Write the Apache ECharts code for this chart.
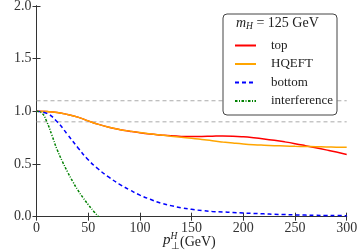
<!DOCTYPE html>
<html>
<head>
<meta charset="utf-8">
<script src="https://cdn.jsdelivr.net/npm/echarts@6/dist/echarts.min.js"></script>
<style>html,body{margin:0;padding:0;background:#fff}#c{width:357px;height:250px}</style>
</head>
<body>
<div id="c"></div>
<script>
const xGrid = [0,10,20,30,40,50,60,70,80,90,100,110,120,130,140,150,160,170,180,190,200,210,220,230,240,250,260,270,280,290,300];
const topVals = [1.0,0.997,0.988,0.97,0.945,0.909,0.876,0.849,0.828,0.811,0.796,0.784,0.775,0.767,0.762,0.76,0.761,0.764,0.766,0.764,0.758,0.749,0.738,0.725,0.71,0.693,0.674,0.654,0.634,0.613,0.59];
const hqeftVals = [1.0,0.997,0.988,0.97,0.945,0.909,0.876,0.849,0.828,0.812,0.798,0.786,0.775,0.764,0.754,0.745,0.733,0.72,0.709,0.699,0.69,0.683,0.678,0.674,0.671,0.668,0.666,0.664,0.662,0.66,0.658];
const bottomVals = [1.0,0.98,0.9,0.78,0.655,0.54,0.45,0.375,0.31,0.255,0.205,0.165,0.13,0.105,0.085,0.07,0.058,0.05,0.045,0.04,0.035,0.031,0.027,0.023,0.02,0.017,0.015,0.013,0.012,0.011,0.01];
const xInterf = [0,5,10,15,20,25,30,35,40,45,50,55,60];
const interfVals = [1.0,0.985,0.9,0.77,0.635,0.525,0.425,0.335,0.252,0.18,0.115,0.055,0.0];
const xTicks = [0,50,100,150,200,250,300];
const yTicks = [0.0,0.5,1.0,1.5,2.0];
const refUpper = 1.1, refLower = 0.9;
const legendSpanX = [180, 291]; // x-range hidden behind the opaque legend box
const seriesNames = ['top','HQEFT','bottom','interference'];

const pair = (xs, ys) => xs.map((x,i)=>[x, ys[i]]);
const FONT = 'Liberation Serif';
const AX = '#333';
const axisCommon = {
  axisLine:{show:true,lineStyle:{color:AX,width:1}},
  axisTick:{show:true,inside:true,length:4,lineStyle:{color:AX}},
  splitLine:{show:false}
};
const xMin = xGrid[0], xMax = xGrid[xGrid.length-1];
const refStyle = {color:'#aaaaaa',type:[4,3],width:1};
const chart = echarts.init(document.getElementById('c'));
chart.setOption({
  animation:false,
  grid:{left:36.5,right:10.3,top:5.9,bottom:33.3,containLabel:false,outerBoundsMode:'none'},
  xAxis:[
    Object.assign({type:'value',min:0,max:300,interval:50,
      axisLabel:{color:AX,fontFamily:FONT,fontSize:14,margin:5,formatter:v=>xTicks.includes(v)?String(v):''}},axisCommon),
    Object.assign({type:'value',position:'top',min:0,max:300,interval:50,axisLabel:{show:false}},axisCommon)
  ],
  yAxis:[
    Object.assign({type:'value',min:0,max:2,interval:0.5,
      name:'C',nameLocation:'middle',nameGap:31,nameRotate:90,
      nameTextStyle:{fontFamily:FONT,fontStyle:'italic',fontSize:15,color:AX},
      axisLabel:{color:AX,fontFamily:FONT,fontSize:14,margin:5,formatter:v=>yTicks.includes(v)?v.toFixed(1):''}},axisCommon),
    Object.assign({type:'value',position:'right',min:0,max:2,interval:0.5,axisLabel:{show:false}},axisCommon)
  ],
  legend:{
    orient:'vertical',left:229,top:34,itemWidth:21,itemHeight:14,itemGap:5.5,z:200,
    itemStyle:{opacity:0},
    textStyle:{fontFamily:FONT,fontSize:13,color:'#222',padding:[0,0,0,10]},
    data:seriesNames
  },
  graphic:{elements:[
    {type:'rect',z:100,shape:{x:223,y:14,width:114,height:101,r:4},style:{fill:'#ffffff',stroke:'#444',lineWidth:1}},
    {type:'text',z:101,left:236,top:16,style:{rich:{
        m:{fontFamily:FONT,fontStyle:'italic',fontSize:14,fill:'#222'},
        s:{fontFamily:FONT,fontStyle:'italic',fontSize:9.5,fill:'#222',padding:[7,0,0,0]},
        r:{fontFamily:FONT,fontSize:14,fill:'#222'}
      },text:'{m|m}{s|H}{r| = 125 GeV}'}},
    {type:'text',left:163,top:233,style:{text:'p',fontFamily:FONT,fontStyle:'italic',fontSize:15,fill:'#222'}},
    {type:'text',left:170.5,top:231,style:{text:'H',fontFamily:FONT,fontStyle:'italic',fontSize:9.5,fill:'#222'}},
    {type:'text',left:170.5,top:241,style:{text:'⊥',fontFamily:FONT,fontSize:9.5,fill:'#222'}},
    {type:'text',left:180,top:235,style:{text:'(GeV)',fontFamily:FONT,fontSize:14,fill:'#222'}}
  ]},
  series:[
    {name:'ref-upper',type:'line',silent:true,showSymbol:false,symbol:'none',connectNulls:false,z:1,
      data:[[xMin,refUpper],[legendSpanX[0],refUpper],[(legendSpanX[0]+legendSpanX[1])/2,null],[legendSpanX[1],refUpper],[xMax,refUpper]],
      lineStyle:refStyle},
    {name:'ref-lower',type:'line',silent:true,showSymbol:false,symbol:'none',z:1,
      data:[[xMin,refLower],[xMax,refLower]],lineStyle:refStyle},
    {name:'top',type:'line',data:pair(xGrid,topVals),showSymbol:false,symbol:'none',smooth:true,
      lineStyle:{color:'#ff0000',width:1.5},itemStyle:{color:'#ff0000'},z:3},
    {name:'HQEFT',type:'line',data:pair(xGrid,hqeftVals),showSymbol:false,symbol:'none',smooth:true,
      lineStyle:{color:'#ffa500',width:1.5},itemStyle:{color:'#ffa500'},z:4},
    {name:'bottom',type:'line',data:pair(xGrid,bottomVals),showSymbol:false,symbol:'none',smooth:true,
      lineStyle:{color:'#0000ff',width:1.5,type:[4,3]},itemStyle:{color:'#0000ff'},z:5},
    {name:'interference',type:'line',data:pair(xInterf,interfVals),showSymbol:false,symbol:'none',smooth:true,
      lineStyle:{color:'#008000',width:1.5,type:[2.5,1.5,1,1.5]},itemStyle:{color:'#008000'},z:6}
  ]
});
</script>
</body>
</html>
